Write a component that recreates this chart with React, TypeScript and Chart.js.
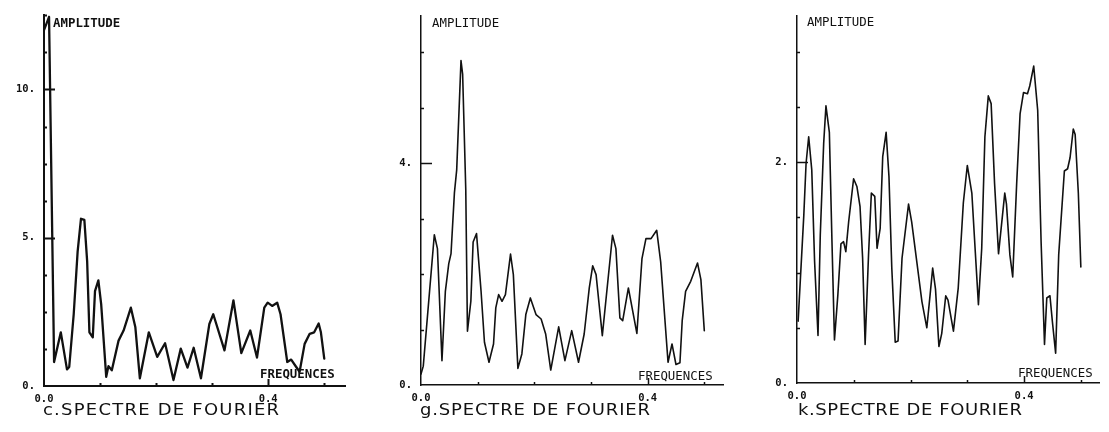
import { useEffect, useRef } from "react";
import { Chart, registerables } from "chart.js";

Chart.register(...registerables);

type Pt = [number, number];

// Fourier amplitude spectra: [frequency, amplitude]
const spectrumC: Pt[] = [
  [0, 12.0], [0.009, 12.45], [0.018, 0.81], [0.03, 1.81], [0.041, 0.56], [0.045, 0.64],
  [0.053, 2.42], [0.06, 4.53], [0.066, 5.64], [0.072, 5.6], [0.077, 4.2], [0.081, 1.81],
  [0.087, 1.64], [0.091, 3.2], [0.097, 3.56], [0.102, 2.76], [0.111, 0.31], [0.115, 0.67],
  [0.121, 0.53], [0.133, 1.53], [0.142, 1.87], [0.155, 2.64], [0.163, 1.98], [0.171, 0.26],
  [0.187, 1.81], [0.202, 0.98], [0.216, 1.44], [0.231, 0.2], [0.244, 1.26], [0.256, 0.62],
  [0.267, 1.29], [0.28, 0.26], [0.295, 2.09], [0.302, 2.42], [0.322, 1.2], [0.338, 2.89],
  [0.352, 1.11], [0.368, 1.87], [0.38, 0.96], [0.393, 2.64], [0.399, 2.81], [0.407, 2.7],
  [0.416, 2.81], [0.422, 2.42], [0.434, 0.81], [0.441, 0.89], [0.45, 0.64], [0.456, 0.48],
  [0.465, 1.42], [0.474, 1.76], [0.482, 1.81], [0.49, 2.11], [0.494, 1.81], [0.5, 0.92],
];

const spectrumG: Pt[] = [
  [0, 0.2], [0.004, 0.34], [0.0235, 2.71], [0.029, 2.46], [0.037, 0.44], [0.043, 1.69],
  [0.049, 2.19], [0.053, 2.37], [0.059, 3.47], [0.063, 3.88], [0.0706, 5.85], [0.0735, 5.6],
  [0.079, 3.53], [0.082, 0.97], [0.088, 1.51], [0.092, 2.58], [0.098, 2.73], [0.106, 1.69],
  [0.112, 0.77], [0.12, 0.41], [0.128, 0.74], [0.132, 1.39], [0.137, 1.63], [0.143, 1.51],
  [0.149, 1.63], [0.158, 2.36], [0.163, 1.99], [0.171, 0.3], [0.178, 0.56], [0.185, 1.27],
  [0.193, 1.57], [0.203, 1.27], [0.212, 1.19], [0.22, 0.92], [0.229, 0.27], [0.243, 1.05],
  [0.254, 0.44], [0.266, 0.98], [0.278, 0.41], [0.288, 0.92], [0.297, 1.75], [0.303, 2.15],
  [0.309, 1.99], [0.32, 0.89], [0.338, 2.7], [0.344, 2.46], [0.351, 1.21], [0.356, 1.16],
  [0.366, 1.75], [0.381, 0.93], [0.39, 2.28], [0.397, 2.64], [0.406, 2.64], [0.416, 2.79],
  [0.423, 2.22], [0.436, 0.41], [0.443, 0.74], [0.45, 0.37], [0.457, 0.4], [0.461, 1.16],
  [0.467, 1.69], [0.476, 1.87], [0.488, 2.2], [0.494, 1.9], [0.5, 0.98],
];

const spectrumK: Pt[] = [
  [0.002, 0.56], [0.012, 1.52], [0.016, 1.99], [0.0206, 2.23], [0.026, 1.93], [0.031, 1.1],
  [0.037, 0.43], [0.041, 1.34], [0.047, 2.17], [0.051, 2.51], [0.057, 2.27], [0.0616, 1.28],
  [0.066, 0.39], [0.072, 0.8], [0.0774, 1.26], [0.082, 1.28], [0.086, 1.19], [0.091, 1.46],
  [0.0997, 1.85], [0.1055, 1.78], [0.111, 1.6], [0.1156, 1.13], [0.12, 0.35], [0.126, 1.16],
  [0.131, 1.72], [0.137, 1.69], [0.141, 1.22], [0.1465, 1.4], [0.151, 2.05], [0.157, 2.27],
  [0.162, 1.87], [0.167, 1.04], [0.173, 0.37], [0.178, 0.38], [0.185, 1.13], [0.1965, 1.62],
  [0.202, 1.46], [0.211, 1.1], [0.22, 0.74], [0.2287, 0.5], [0.2345, 0.8], [0.239, 1.04],
  [0.244, 0.85], [0.25, 0.33], [0.255, 0.45], [0.262, 0.79], [0.266, 0.75], [0.2756, 0.47],
  [0.284, 0.86], [0.293, 1.63], [0.3, 1.97], [0.308, 1.72], [0.3137, 1.22], [0.3196, 0.71],
  [0.3254, 1.22], [0.331, 2.23], [0.337, 2.6], [0.342, 2.53], [0.348, 1.81], [0.355, 1.17],
  [0.366, 1.72], [0.369, 1.62], [0.375, 1.16], [0.38, 0.96], [0.387, 1.81], [0.393, 2.44],
  [0.399, 2.63], [0.406, 2.62], [0.41, 2.69], [0.417, 2.87], [0.424, 2.47], [0.43, 1.28],
  [0.436, 0.35], [0.44, 0.77], [0.4456, 0.79], [0.45, 0.55], [0.4556, 0.27], [0.461, 1.16],
  [0.471, 1.92], [0.4767, 1.94], [0.481, 2.04], [0.4867, 2.3], [0.49, 2.25], [0.4956, 1.72],
  [0.5, 1.05],
];

// Labelled ticks
const freqLabelTicks = [0, 0.4];
const ampLabelTicksC = [0, 5, 10];
const ampLabelTicksG = [0, 4];
const ampLabelTicksK = [0, 2];

const titleC = "c.SPECTRE DE FOURIER";
const titleG = "g.SPECTRE DE FOURIER";
const titleK = "k.SPECTRE DE FOURIER";
const ampName = "AMPLITUDE";
const freqName = "FREQUENCES";

const INK = "#111";
const H = 432;

interface PanelSpec {
  data: Pt[];
  title: string;
  yMax: number;
  yStep: number;
  yLabels: number[];
  xMax: number;
  left: number;
  width: number;
  axisX: number;
  plotRight: number;
  top: number;
  bottom: number;
  lineWidth: number;
  axisWidth: number;
  heavy: boolean;
  ampX: number;
  ampY: number;
  freqX: number;
  freqY: number;
  titleX: number;
  titleW: number;
}

const panels: PanelSpec[] = [
  {
    data: spectrumC, title: titleC, yMax: 12.5, yStep: 1.25, yLabels: ampLabelTicksC, xMax: 0.537,
    left: 0, width: 370, axisX: 44, plotRight: 345, top: 10, bottom: 386,
    lineWidth: 2.3, axisWidth: 2, heavy: true,
    ampX: 53, ampY: 27, freqX: 260, freqY: 378, titleX: 43, titleW: 236,
  },
  {
    data: spectrumG, title: titleG, yMax: 6.667, yStep: 1, yLabels: ampLabelTicksG, xMax: 0.533,
    left: 370, width: 370, axisX: 421, plotRight: 723, top: 10, bottom: 385,
    lineWidth: 1.6, axisWidth: 1.5, heavy: false,
    ampX: 432, ampY: 27, freqX: 638, freqY: 380, titleX: 420, titleW: 230,
  },
  {
    data: spectrumK, title: titleK, yMax: 3.33, yStep: 0.5, yLabels: ampLabelTicksK, xMax: 0.532,
    left: 740, width: 369, axisX: 797, plotRight: 1099, top: 10, bottom: 383,
    lineWidth: 1.6, axisWidth: 1.5, heavy: false,
    ampX: 807, ampY: 26, freqX: 1018, freqY: 377, titleX: 798, titleW: 224,
  },
];

const near = (a: number, list: number[]) => list.some((v) => Math.abs(v - a) < 1e-6);

// horizontal stretch of the caption lettering
const CAPTION_STRETCH = 1.2;

function makeDecor(p: PanelSpec) {
  return {
    id: "decor",
    afterDraw(chart: any) {
      const { ctx, chartArea, scales } = chart;
      const xs = scales.x;
      const ys = scales.y;
      ctx.save();
      ctx.strokeStyle = INK;
      ctx.lineWidth = p.axisWidth;
      // inward tick marks on the amplitude axis
      ys.ticks.forEach((t: any) => {
        if (t.value === 0) return;
        const py = Math.round(ys.getPixelForValue(t.value)) + 0.5;
        const len = near(t.value, p.yLabels) ? 11 : 3;
        ctx.beginPath();
        ctx.moveTo(chartArea.left, py);
        ctx.lineTo(chartArea.left + len, py);
        ctx.stroke();
      });
      // upward tick marks on the frequency axis
      xs.ticks.forEach((t: any) => {
        if (t.value === 0) return;
        const px = Math.round(xs.getPixelForValue(t.value)) + 0.5;
        const len = near(t.value, freqLabelTicks) ? 7 : 3;
        ctx.beginPath();
        ctx.moveTo(px, chartArea.bottom);
        ctx.lineTo(px, chartArea.bottom - len);
        ctx.stroke();
      });

      const ox = p.left;
      ctx.fillStyle = INK;
      ctx.textAlign = "left";
      ctx.textBaseline = "alphabetic";
      ctx.font = `${p.heavy ? "bold " : ""}12.4px "DejaVu Sans Mono", monospace`;
      ctx.fillText(ampName, p.ampX - ox, p.ampY);
      ctx.fillText(freqName, p.freqX - ox, p.freqY);

      // panel caption in wide plotter-style lettering
      ctx.font = '15px "DejaVu Sans", sans-serif';
      const natural = ctx.measureText(p.title).width;
      const spacing = Math.max(0, (p.titleW / CAPTION_STRETCH - natural) / (p.title.length - 1));
      if ("letterSpacing" in ctx) (ctx as any).letterSpacing = `${spacing.toFixed(2)}px`;
      ctx.translate(p.titleX - ox, 415);
      ctx.scale(CAPTION_STRETCH, 1);
      ctx.fillText(p.title, 0, 0);
      ctx.restore();
    },
  };
}

function SpectrumPanel({ spec }: { spec: PanelSpec }) {
  const ref = useRef<HTMLCanvasElement | null>(null);

  useEffect(() => {
    if (!ref.current) return;
    const p = spec;
    const tickFont = { family: '"DejaVu Sans Mono", monospace', size: 10.5, weight: "bold" as const };
    const chart = new Chart(ref.current, {
      type: "line",
      data: {
        datasets: [
          {
            data: p.data.map(([f, a]) => ({ x: f, y: a })),
            borderColor: INK,
            borderWidth: p.lineWidth,
            pointRadius: 0,
            tension: 0,
            fill: false,
            borderJoinStyle: "round",
            borderCapStyle: "round",
          },
        ],
      },
      options: {
        animation: false,
        responsive: false,
        events: [],
        layout: {
          padding: { left: 0, top: p.top, right: p.width - (p.plotRight - p.left), bottom: 0 },
        },
        plugins: {
          legend: { display: false },
          tooltip: { enabled: false },
          title: { display: false },
        },
        scales: {
          x: {
            type: "linear",
            min: 0,
            max: p.xMax,
            grid: { display: false, drawTicks: false },
            border: { display: true, color: INK, width: p.axisWidth },
            ticks: {
              stepSize: 0.1,
              includeBounds: false,
              autoSkip: false,
              maxRotation: 0,
              padding: 7,
              color: INK,
              font: tickFont,
              callback: (v: any) => (near(Number(v), freqLabelTicks) ? Number(v).toFixed(1) : ""),
            },
            afterFit: (s: any) => {
              s.height = H - p.bottom;
            },
          },
          y: {
            type: "linear",
            min: 0,
            max: p.yMax,
            grid: { display: false, drawTicks: false },
            border: { display: true, color: INK, width: p.axisWidth },
            ticks: {
              stepSize: p.yStep,
              includeBounds: false,
              autoSkip: false,
              padding: 9,
              color: INK,
              font: tickFont,
              callback: (v: any) => (near(Number(v), p.yLabels) ? `${Number(v)}.` : ""),
            },
            afterFit: (s: any) => {
              s.width = p.axisX - p.left;
            },
          },
        },
      },
      plugins: [makeDecor(p)],
    });
    return () => chart.destroy();
  }, [spec]);

  return (
    <canvas
      ref={ref}
      width={spec.width}
      height={H}
      style={{ position: "absolute", left: spec.left, top: 0, width: spec.width, height: H }}
    />
  );
}

export default function App() {
  return (
    <div style={{ position: "absolute", left: 0, top: 0, width: 1109, height: H, background: "#fff" }}>
      {panels.map((p, i) => (
        <SpectrumPanel key={i} spec={p} />
      ))}
    </div>
  );
}
